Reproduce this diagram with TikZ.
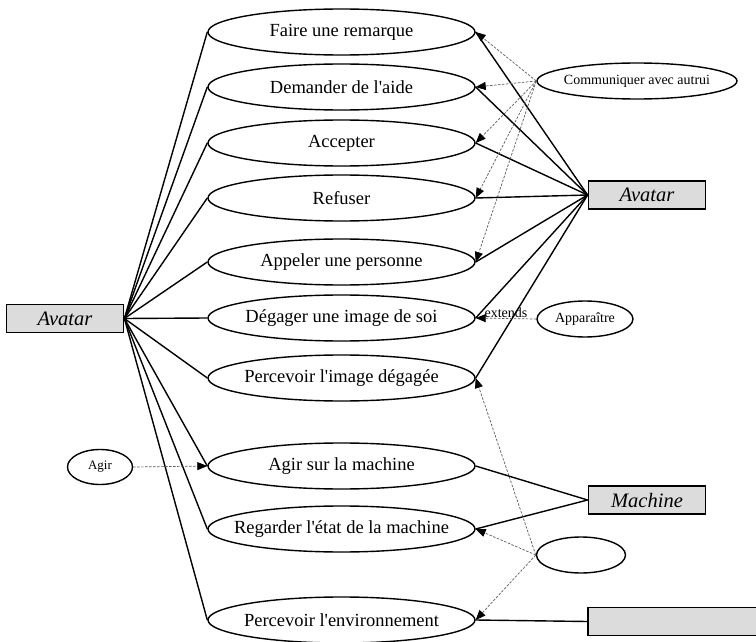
\documentclass[tikz,border=0pt]{standalone}
\usepackage{fontspec}
\setmainfont{Liberation Serif}
\usetikzlibrary{shapes.geometric,arrows.meta}
\newcommand\ctext[1]{\makebox[0pt]{#1}}
\newcommand\apos{\textquotesingle}
\definecolor{boxgray}{RGB}{220,220,220}
\definecolor{dashgray}{RGB}{90,90,90}
\begin{document}
\begin{tikzpicture}[x=1pt,y=-1pt,
  uc/.style={ellipse, draw, line width=1.4pt, minimum width=267pt, minimum height=46pt, inner sep=0pt, font=\fontsize{18.5}{20}\selectfont},
  suc/.style={ellipse, draw, line width=1.4pt, inner sep=0pt, font=\fontsize{14}{16}\selectfont},
  actor/.style={draw, line width=1.8pt, fill=boxgray, minimum width=117pt, minimum height=28pt, inner sep=0pt, font=\fontsize{20.5}{22}\selectfont\itshape},
  assoc/.style={line width=1.4pt},
  dep/.style={dashgray, line width=0.7pt, dash pattern=on 2.5pt off 1.5pt, -{Triangle[length=10pt,width=8pt,color=black]}},
]
\useasboundingbox (0,0) rectangle (756,642);
% actors
\node[actor] (avL) at (65,318.5) {Avatar};
\node[actor] (avR) at (647,195) {Avatar};
\node[actor] (mach) at (647,500) {Machine};
\node[actor, minimum width=180pt] (env) at (678,621.5) {};
% use cases
\node[uc] (u1) at (341.5,32) {\ctext{Faire une remarque}};
\node[uc] (u2) at (341.5,87) {\ctext{Demander de l\apos aide}};
\node[uc] (u3) at (341.5,143) {\ctext{Accepter}};
\node[uc] (u4) at (341.5,198) {\ctext{Refuser}};
\node[uc] (u5) at (341.5,262) {\ctext{Appeler une personne}};
\node[uc] (u6) at (341.5,318) {\ctext{Dégager une image de soi}};
\node[uc] (u7) at (341.5,378) {\ctext{Percevoir l\apos image dégagée}};
\node[uc] (u8) at (341.5,466) {\ctext{Agir sur la machine}};
\node[uc] (u9) at (341.5,529) {\ctext{Regarder l\apos état de la machine}};
\node[uc] (u10) at (341.5,620) {\ctext{Percevoir l\apos environnement}};
% small use cases
\node[suc, minimum width=200pt, minimum height=36pt] (comm) at (637,81) {\ctext{Communiquer avec autrui}};
\node[suc, minimum width=96pt, minimum height=36pt] (app) at (585,319) {\ctext{Apparaître}};
\node[suc, minimum width=65pt, minimum height=35pt, font=\fontsize{13}{15}\selectfont] (agir) at (100,467) {\ctext{Agir}};
\node[suc, minimum width=89pt, minimum height=36pt] (blank) at (581,555) {};
% associations
\foreach \u in {u1,u2,u3,u4,u5,u6,u7,u8,u9,u10} \draw[assoc] (avL.east) -- (\u.west);
\foreach \u in {u1,u2,u3,u4,u5,u6,u7} \draw[assoc] (avR.west) -- (\u.east);
\draw[assoc] (mach.west) -- (u8.east);
\draw[assoc] (mach.west) -- (u9.east);
\draw[assoc] (env.west) -- (u10.east);
% dependencies
\foreach \u in {u1,u2,u3,u4,u5} \draw[dep] (comm.west) -- (\u.east);
\draw[dep] (app.west) -- node[above, inner sep=0.5pt, text=black, font=\fontsize{14}{16}\selectfont] {extends} (u6.east);
\draw[dep] (agir.east) -- (u8.west);
\foreach \u in {u7,u9,u10} \draw[dep] (blank.west) -- (\u.east);
\end{tikzpicture}
\end{document}
